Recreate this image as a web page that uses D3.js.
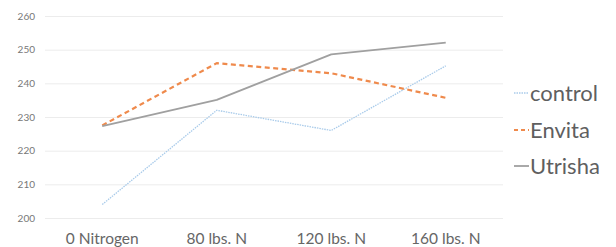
<!DOCTYPE html>
<html><head><meta charset="utf-8">
<script src="https://cdn.jsdelivr.net/npm/d3@7"></script>
<style>html,body{margin:0;padding:0;background:#fff;}svg{display:block;}</style>
</head><body>
<svg id="c" width="616" height="247"></svg>
<script>
const categories = ["0 Nitrogen", "80 lbs. N", "120 lbs. N", "160 lbs. N"];
const seriesNames = ["control", "Envita", "Utrisha"];
const control = [204, 232, 226, 245.2];
const envita = [227.5, 246, 243, 235.7];
const utrisha = [227.3, 235.1, 248.6, 252.1];
const yTicks = [200, 210, 220, 230, 240, 250, 260];

const seriesValues = [control, envita, utrisha];
const styles = [
  {color: "#a9cbea", width: 1.3, dash: "1.5,1"},
  {color: "#ef8a4c", width: 2.2, dash: "5,3.5"},
  {color: "#a0a0a0", width: 1.9, dash: null}
];

const svg = d3.select("#c");
const x = d3.scaleBand().domain(categories).range([45, 503]);
const y = d3.scaleLinear().domain([200, 260]).range([218, 16]);

// gridlines
svg.append("g").selectAll("line").data(yTicks).join("line")
  .attr("x1", 45).attr("x2", 503)
  .attr("y1", d => y(d) + 0.5).attr("y2", d => y(d) + 0.5)
  .attr("stroke", "#ececec").attr("stroke-width", 1);

// y axis labels
const yAxis = d3.axisLeft(y).tickValues(yTicks).tickSize(0).tickPadding(0);
const ya = svg.append("g").attr("transform", "translate(35,0)").call(yAxis);
ya.select(".domain").remove();
ya.selectAll("text").attr("font-family", "Lato, 'Open Sans', sans-serif")
  .attr("font-size", 10).attr("fill", "#777");

// x axis labels
const xAxis = d3.axisBottom(x).tickSize(0).tickPadding(0);
const xa = svg.append("g").attr("transform", "translate(0,233)").call(xAxis);
xa.select(".domain").remove();
xa.selectAll("text").attr("font-family", "Lato, 'Open Sans', sans-serif")
  .attr("font-size", 15.5).attr("fill", "#666");

// lines
const line = d3.line().x((d, i) => x(categories[i]) + x.bandwidth() / 2).y(d => y(d));
seriesValues.forEach((vals, i) => {
  const s = styles[i];
  const p = svg.append("path").datum(vals)
    .attr("d", line).attr("fill", "none")
    .attr("stroke", s.color).attr("stroke-width", s.width)
    .attr("stroke-linejoin", "round");
  if (s.dash) p.attr("stroke-dasharray", s.dash);
});

// legend
const legendY = [93, 130, 166];
const lg = svg.append("g");
seriesNames.forEach((name, i) => {
  const s = styles[i];
  const l = lg.append("line").attr("x1", 514).attr("x2", 529)
    .attr("y1", legendY[i]).attr("y2", legendY[i])
    .attr("stroke", s.color).attr("stroke-width", Math.min(s.width, 1.8));
  if (s.dash) l.attr("stroke-dasharray", i === 1 ? "4,3" : s.dash);
  lg.append("text").attr("x", 530).attr("y", legendY[i])
    .attr("dy", "0.35em")
    .attr("font-family", "Lato, 'Open Sans', sans-serif")
    .attr("font-size", 22).attr("fill", "#5f5f5f").text(name);
});
</script>
</body></html>
